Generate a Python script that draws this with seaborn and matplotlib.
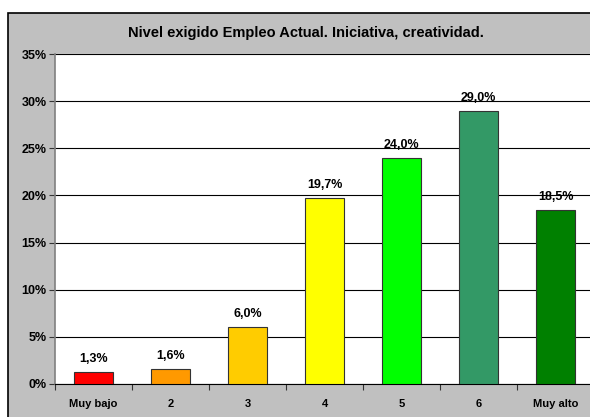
import pandas as pd
import seaborn as sns
import matplotlib.pyplot as plt
from matplotlib.patches import Rectangle
from matplotlib.ticker import FuncFormatter, FixedLocator

# Datos
categorias = ['Muy bajo', '2', '3', '4', '5', '6', 'Muy alto']
porcentajes = [1.3, 1.6, 6.0, 19.7, 24.0, 29.0, 18.5]
colores = ['#FF0000', '#FF9900', '#FFCC00', '#FFFF00', '#00FF00', '#339966', '#008000']

df = pd.DataFrame({'nivel': categorias, 'pct': porcentajes})

sns.set_style('white')
plt.rcParams['font.family'] = ['Liberation Sans', 'DejaVu Sans']
plt.rcParams['text.color'] = 'black'
plt.rcParams['xtick.color'] = 'black'
plt.rcParams['ytick.color'] = 'black'

fig = plt.figure(figsize=(5.9, 4.17), dpi=100)
fig.patch.set_facecolor('white')

# Fondo gris del gráfico con borde negro
fondo = Rectangle((8 / 590, -0.1), 1.2, 1 - 13 / 417 + 0.1, transform=fig.transFigure,
                  facecolor='#C0C0C0', edgecolor='black', linewidth=1.2, zorder=-10)
fig.patches.append(fondo)

ax = fig.add_axes([55 / 590, 1 - 384 / 417, 539 / 590, 330 / 417])
ax.set_facecolor('white')

sns.barplot(data=df, x='nivel', y='pct', hue='nivel', palette=colores, legend=False,
            width=0.5, edgecolor='#333333', linewidth=0.8, saturation=1, ax=ax, zorder=3)

ax.set_ylim(0, 35)
ax.set_xlim(-0.5, 6.5)
ax.yaxis.set_major_locator(FixedLocator(range(0, 36, 5)))
ax.yaxis.set_major_formatter(FuncFormatter(lambda v, p: f'{int(v)}%'))
ax.grid(axis='y', color='black', linewidth=0.8, zorder=1)
ax.set_axisbelow(True)

for s in ['top', 'right']:
    ax.spines[s].set_visible(False)
ax.spines['left'].set_color('#808080')
ax.spines['left'].set_linewidth(1.2)
ax.spines['bottom'].set_color('black')
ax.spines['bottom'].set_linewidth(0.8)

ax.tick_params(axis='y', which='major', direction='out', length=4, width=0.8, color='#333333',
               labelsize=9, pad=2, left=True)
ax.tick_params(axis='x', which='major', length=0, labelsize=8, pad=11)
ax.set_xticks([x - 0.5 for x in range(8)], minor=True)
ax.tick_params(axis='x', which='minor', direction='out', length=4, width=0.8, color='#333333', bottom=True)
for lab in ax.get_xticklabels() + ax.get_yticklabels():
    lab.set_fontweight('bold')

ax.set_xlabel('')
ax.set_ylabel('')

# Etiquetas de valor
for i, v in enumerate(porcentajes):
    ax.annotate(f'{v:.1f}%'.replace('.', ','), (i, v), xytext=(0, 5), textcoords='offset points',
                ha='center', va='bottom', fontsize=9, fontweight='bold', zorder=4)

fig.text(306 / 590, 1 - 33 / 417, 'Nivel exigido Empleo Actual. Iniciativa, creatividad.',
         ha='center', va='center', fontsize=10.5, fontweight='bold')

fig.savefig('out.png', dpi=100)
